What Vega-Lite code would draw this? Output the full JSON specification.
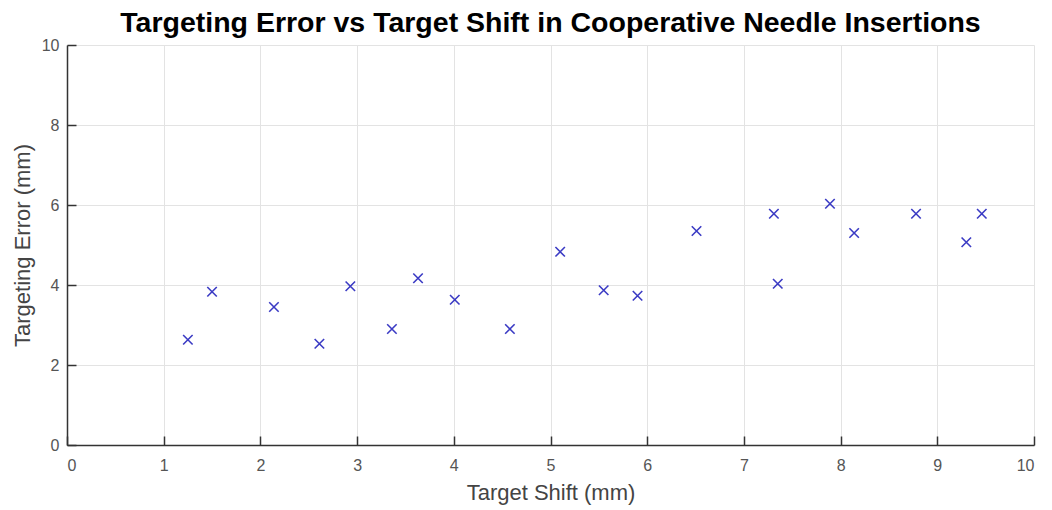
{
  "$schema": "https://vega.github.io/schema/vega-lite/v6.json",
  "width": 967,
  "height": 400,
  "autosize": {"type": "none"},
  "padding": {"left": 67, "top": 45, "right": 18, "bottom": 65},
  "background": "white",
  "title": {
    "text": "Targeting Error vs Target Shift in Cooperative Needle Insertions",
    "font": "Liberation Sans",
    "fontSize": 28.5,
    "fontWeight": "bold",
    "color": "#000000",
    "anchor": "middle",
    "offset": 0
  },
  "config": {
    "view": {"stroke": null},
    "axis": {
      "labelFont": "Liberation Sans",
      "titleFont": "Liberation Sans",
      "labelFontSize": 16,
      "titleFontSize": 22,
      "titleFontWeight": "normal",
      "labelColor": "#555555",
      "titleColor": "#444444",
      "domainColor": "#333333",
      "domainWidth": 1.5,
      "tickColor": "#333333",
      "tickWidth": 1.5,
      "gridColor": "#e3e3e3",
      "gridWidth": 1
    }
  },
  "data": {
    "values": [
      {"shift": 1.25, "error": 2.63},
      {"shift": 1.50, "error": 3.83},
      {"shift": 2.14, "error": 3.45},
      {"shift": 2.61, "error": 2.53},
      {"shift": 2.93, "error": 3.97},
      {"shift": 3.36, "error": 2.90},
      {"shift": 3.63, "error": 4.17},
      {"shift": 4.01, "error": 3.63},
      {"shift": 4.58, "error": 2.90},
      {"shift": 5.10, "error": 4.83},
      {"shift": 5.55, "error": 3.87},
      {"shift": 5.90, "error": 3.73},
      {"shift": 6.51, "error": 5.35},
      {"shift": 7.31, "error": 5.78},
      {"shift": 7.35, "error": 4.03},
      {"shift": 7.89, "error": 6.03},
      {"shift": 8.14, "error": 5.30},
      {"shift": 8.78, "error": 5.78},
      {"shift": 9.30, "error": 5.07},
      {"shift": 9.46, "error": 5.78}
    ]
  },
  "mark": {
    "type": "point",
    "shape": "M-1,-1L1,1M-1,1L1,-1",
    "filled": false,
    "stroke": "#3b3bc4",
    "strokeWidth": 1.6,
    "size": 90,
    "opacity": 1
  },
  "encoding": {
    "x": {
      "field": "shift",
      "type": "quantitative",
      "title": "Target Shift (mm)",
      "scale": {"domain": [0, 10], "nice": false, "zero": false},
      "axis": {
        "values": [0, 1, 2, 3, 4, 5, 6, 7, 8, 9, 10],
        "tickSize": -9,
        "labelPadding": 21,
        "titlePadding": 9
      }
    },
    "y": {
      "field": "error",
      "type": "quantitative",
      "title": "Targeting Error (mm)",
      "scale": {"domain": [0, 10], "nice": false, "zero": false},
      "axis": {
        "values": [0, 2, 4, 6, 8, 10],
        "tickSize": -9,
        "labelPadding": 17,
        "titlePadding": 7
      }
    }
  }
}
